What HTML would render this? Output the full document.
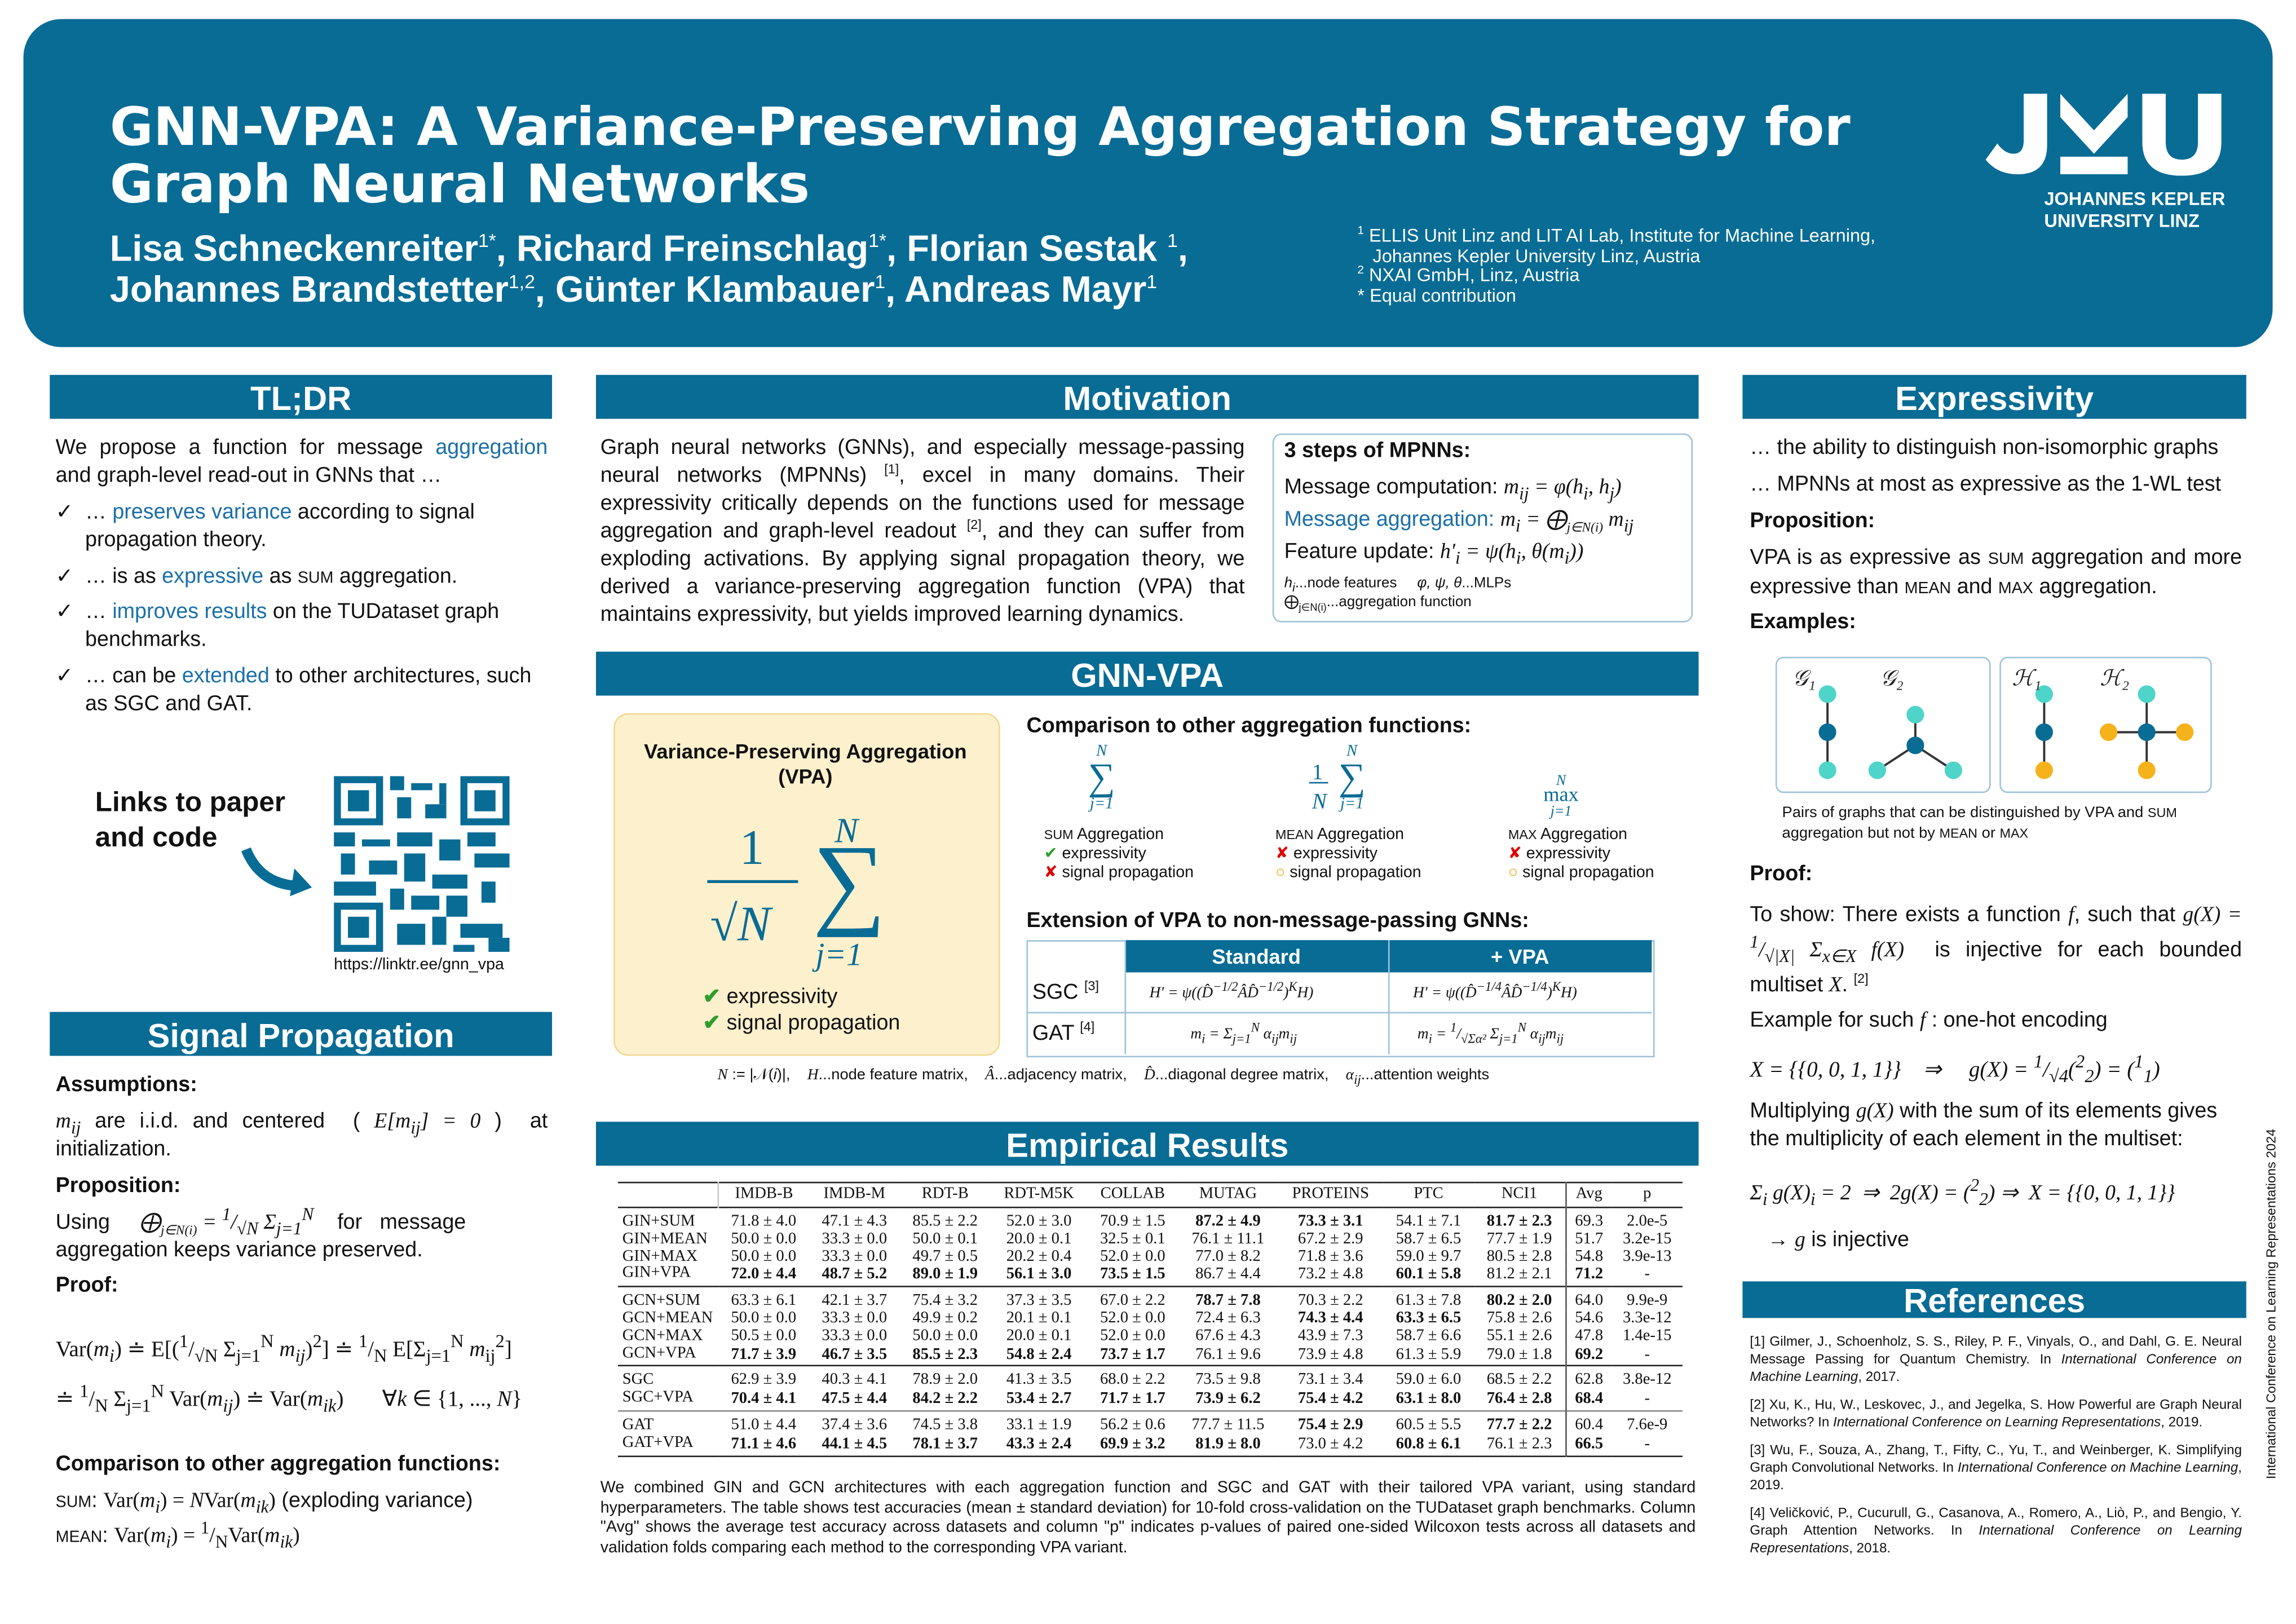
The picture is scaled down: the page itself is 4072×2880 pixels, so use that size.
<!DOCTYPE html>
<html><head><meta charset="utf-8"><style>
html,body{margin:0;padding:0;background:#fff;}
body{width:4072px;height:2880px;overflow:hidden;position:relative;}
#p{position:absolute;left:0;top:0;width:1568px;height:1109px;transform:scale(2.597);transform-origin:0 0;font-family:"Liberation Sans",sans-serif;color:#111;}
sup,sub{line-height:0;}
.a{position:absolute;}
.bar{position:absolute;background:#086c95;color:#fff;font-weight:bold;font-size:23px;text-align:center;height:30px;line-height:32px;}
.t{position:absolute;font-size:14.5px;line-height:19px;}
.b{color:#1a6fa8;}
.m{font-family:"Liberation Serif",serif;font-style:italic;}
.sm{font-size:10.5px;line-height:13px;}
table{border-collapse:collapse;font-family:"Liberation Serif",serif;font-size:11px;}
td{padding:0 3px;height:11.8px;line-height:11.8px;text-align:center;white-space:nowrap;}
td:first-child{text-align:left;}
.bd{font-weight:bold;}
.g td{padding-top:4px;}
.v{border-left:.5px solid #555;}
</style></head><body><div id="p">
<div class="a" style="left:16px;top:13px;width:1536px;height:224px;background:#086c95;border-radius:26px;"></div>
<div class="a" style="left:75px;top:67px;color:#fff;font-weight:bold;font-size:36.2px;line-height:39px;font-family:'DejaVu Sans',sans-serif;">GNN-VPA: A Variance-Preserving Aggregation Strategy for<br>Graph Neural Networks</div>
<div class="a" style="left:75px;top:156px;color:#fff;font-weight:bold;font-size:25px;line-height:28px;">Lisa Schneckenreiter<sup style="font-size:13px;font-weight:normal">1*</sup>, Richard Freinschlag<sup style="font-size:13px;font-weight:normal">1*</sup>, Florian Sestak <sup style="font-size:13px;font-weight:normal">1</sup>,<br>Johannes Brandstetter<sup style="font-size:13px;font-weight:normal">1,2</sup>, Günter Klambauer<sup style="font-size:13px;font-weight:normal">1</sup>, Andreas Mayr<sup style="font-size:13px;font-weight:normal">1</sup></div>
<div class="a" style="left:927px;top:155px;color:#fff;font-size:12.5px;line-height:13.5px;"><sup style="font-size:8px">1</sup> ELLIS Unit Linz and LIT AI Lab, Institute for Machine Learning,<br>&nbsp;&nbsp; Johannes Kepler University Linz, Austria<br><sup style="font-size:8px">2</sup> NXAI GmbH, Linz, Austria<br>* Equal contribution</div>
<svg class="a" style="left:1355px;top:62px" width="170" height="58" viewBox="0 0 170 58"><path d="M27 2h16v35q0 20-20 20q-14 0-22-10l8-11q5 7 11 7q7 0 7-9z" fill="#fff"/><path d="M52 2l23 25l23-25v16l-23 25l-23-25z M52 45h46v12h-46z" fill="#fff"/><path d="M108 2h16v33q0 12 11 12q11 0 11-12v-33h16v33q0 23-27 23q-27 0-27-23z" fill="#fff"/></svg>
<div class="a" style="left:1396px;top:129px;color:#fff;font-weight:bold;font-size:12.5px;line-height:15px;">JOHANNES KEPLER<br>UNIVERSITY LINZ</div>

<!-- left -->
<div class="bar" style="left:34px;top:256px;width:343px;">TL;DR</div>
<div class="t" style="left:38px;top:297px;width:336px;text-align:justify">We propose a function for message <span class="b">aggregation</span> and graph-level read-out in GNNs that …</div>
<div class="t" style="left:38px;top:341px;width:336px;">✓&nbsp; … <span class="b">preserves variance</span> according to signal<br>&nbsp;&nbsp;&nbsp;&nbsp; propagation theory.</div>
<div class="t" style="left:38px;top:385px;">✓&nbsp; … is as <span class="b">expressive</span> as <span style="font-size:11px">SUM</span> aggregation.</div>
<div class="t" style="left:38px;top:409px;width:336px;">✓&nbsp; … <span class="b">improves results</span> on the TUDataset graph<br>&nbsp;&nbsp;&nbsp;&nbsp; benchmarks.</div>
<div class="t" style="left:38px;top:453px;">✓&nbsp; … can be <span class="b">extended</span> to other architectures, such<br>&nbsp;&nbsp;&nbsp;&nbsp; as SGC and GAT.</div>
<div class="a" style="left:65px;top:537px;font-weight:bold;font-size:19px;line-height:24px;">Links to paper<br>and code</div>
<svg class="a" style="left:165px;top:575px" width="50" height="40"><path d="M3 5q10 25 38 25" stroke="#086c95" stroke-width="7" fill="none"/><path d="M36 18l12 13l-15 6z" fill="#086c95"/></svg>
<svg class="a" style="left:228px;top:530px" width="120" height="120" viewBox="0 0 25 25"><rect width="25" height="25" fill="#fff"/><g fill="#086c95"><path d="M0 0h7v7h-7zM1 1v5h5v-5zM2 2h3v3h-3z" fill-rule="evenodd"/><path d="M18 0h7v7h-7zM19 1v5h5v-5zM20 2h3v3h-3z" fill-rule="evenodd"/><path d="M0 18h7v7h-7zM1 19v5h5v-5zM2 20h3v3h-3z" fill-rule="evenodd"/><rect x="8" y="0" width="2" height="2"/><rect x="11" y="1" width="3" height="1"/><rect x="9" y="3" width="2" height="3"/><rect x="13" y="4" width="3" height="2"/><rect x="15" y="1" width="1" height="3"/><rect x="0" y="8" width="3" height="2"/><rect x="4" y="9" width="4" height="1"/><rect x="9" y="8" width="5" height="2"/><rect x="15" y="9" width="3" height="3"/><rect x="19" y="8" width="4" height="2"/><rect x="1" y="11" width="2" height="3"/><rect x="5" y="12" width="4" height="2"/><rect x="10" y="11" width="3" height="4"/><rect x="20" y="11" width="5" height="2"/><rect x="0" y="15" width="6" height="2"/><rect x="8" y="16" width="2" height="3"/><rect x="14" y="14" width="5" height="2"/><rect x="21" y="15" width="2" height="3"/><rect x="11" y="17" width="4" height="2"/><rect x="16" y="17" width="3" height="3"/><rect x="9" y="21" width="4" height="3"/><rect x="14" y="20" width="2" height="4"/><rect x="18" y="21" width="6" height="2"/><rect x="22" y="23" width="3" height="2"/><rect x="17" y="24" width="3" height="1"/></g></svg>
<div class="a" style="left:228px;top:653px;font-size:11px;">https://linktr.ee/gnn_vpa</div>

<div class="bar" style="left:34px;top:691px;width:343px;">Signal Propagation</div>
<div class="t" style="left:38px;top:732px;font-weight:bold">Assumptions:</div>
<div class="t" style="left:38px;top:757px;width:336px;text-align:justify"><span class="m">m<sub>ij</sub></span> are i.i.d. and centered &nbsp;( <span class="m">E[m<sub>ij</sub>] = 0</span> ) &nbsp;at initialization.</div>
<div class="t" style="left:38px;top:801px;font-weight:bold">Proposition:</div>
<div class="t" style="left:38px;top:826px;width:336px;">Using &nbsp;&nbsp;&nbsp;&nbsp;<span class="m">⨁<sub style="font-size:9px">j∈N(i)</sub> = <sup>1</sup>/<sub>√N</sub> Σ<sub>j=1</sub><sup>N</sup></span> &nbsp;&nbsp;&nbsp;for &nbsp; message<br>aggregation keeps variance preserved.</div>
<div class="t" style="left:38px;top:869px;font-weight:bold">Proof:</div>
<div class="a" style="left:38px;top:912px;font-size:15px;font-family:'Liberation Serif',serif">Var(<i>m<sub>i</sub></i>) ≐ E[(<sup>1</sup>/<sub>√N</sub> Σ<sub>j=1</sub><sup>N</sup> <i>m<sub>ij</sub></i>)<sup>2</sup>] ≐ <sup>1</sup>/<sub>N</sub> E[Σ<sub>j=1</sub><sup>N</sup> <i>m</i><sub>ij</sub><sup>2</sup>]</div>
<div class="a" style="left:38px;top:946px;font-size:15px;font-family:'Liberation Serif',serif">≐ <sup>1</sup>/<sub>N</sub> Σ<sub>j=1</sub><sup>N</sup> Var(<i>m<sub>ij</sub></i>) ≐ Var(<i>m<sub>ik</sub></i>) &nbsp;&nbsp;&nbsp;&nbsp;&nbsp; ∀<i>k</i> ∈ {1, ..., <i>N</i>}</div>
<div class="t" style="left:38px;top:991px;font-weight:bold">Comparison to other aggregation functions:</div>
<div class="t" style="left:38px;top:1016px;"><span style="font-size:11px">SUM</span>: <span style="font-family:'Liberation Serif',serif">Var(<i>m<sub>i</sub></i>) = <i>N</i>Var(<i>m<sub>ik</sub></i>)</span> (exploding variance)</div>
<div class="t" style="left:38px;top:1040px;"><span style="font-size:11px">MEAN</span>: <span style="font-family:'Liberation Serif',serif">Var(<i>m<sub>i</sub></i>) = <sup>1</sup>/<sub>N</sub>Var(<i>m<sub>ik</sub></i>)</span></div>

<!-- middle -->
<div class="bar" style="left:407px;top:256px;width:753px;">Motivation</div>
<div class="t" style="left:410px;top:297px;width:440px;text-align:justify">Graph neural networks (GNNs), and especially message-passing neural networks (MPNNs) <sup style="font-size:9px">[1]</sup>, excel in many domains. Their expressivity critically depends on the functions used for message aggregation and graph-level readout <sup style="font-size:9px">[2]</sup>, and they can suffer from exploding activations. By applying signal propagation theory, we derived a variance-preserving aggregation function (VPA) that maintains expressivity, but yields improved learning dynamics.</div>
<div class="a" style="left:869px;top:296px;width:285px;height:127px;border:1.5px solid #9cc3d8;border-radius:6px;"></div>
<div class="t" style="left:877px;top:299px;font-weight:bold">3 steps of MPNNs:</div>
<div class="t" style="left:877px;top:324px;">Message computation: <span class="m">m<sub>ij</sub> = φ(h<sub>i</sub>, h<sub>j</sub>)</span></div>
<div class="t" style="left:877px;top:346px;"><span class="b">Message aggregation:</span> <span class="m">m<sub>i</sub> = ⨁<sub style="font-size:9px">j∈N(i)</sub> m<sub>ij</sub></span></div>
<div class="t" style="left:877px;top:368px;">Feature update: <span class="m">h′<sub>i</sub> = ψ(h<sub>i</sub>, θ(m<sub>i</sub>))</span></div>
<div class="a sm" style="left:877px;top:392px;font-size:10px"><i>h<sub>i</sub></i>...node features &nbsp;&nbsp;&nbsp;&nbsp;<i>φ, ψ, θ</i>...MLPs<br>⨁<sub style="font-size:7px">j∈N(i)</sub>...aggregation function</div>

<div class="bar" style="left:407px;top:445px;width:753px;">GNN-VPA</div>
<div class="a" style="left:419px;top:487px;width:262px;height:232px;background:#fdf0cc;border:1px solid #f3d890;border-radius:10px;"></div>
<div class="a" style="left:419px;top:505px;width:262px;text-align:center;font-weight:bold;font-size:14px;line-height:17px;">Variance-Preserving Aggregation<br>(VPA)</div>
<div class="a" style="left:483px;top:548px;font-family:'Liberation Serif',serif;color:#086c95;font-size:34px;line-height:36px;"><div style="position:absolute;left:22px;top:14px">1</div><div style="position:absolute;left:0;top:53px;width:62px;border-top:2px solid #086c95"></div><div style="position:absolute;left:2px;top:66px;font-style:italic">√<i>N</i></div><div style="position:absolute;left:87px;top:2px;font-size:24px;font-style:italic">N</div><div style="position:absolute;left:72px;top:20px;font-size:70px;line-height:70px">∑</div><div style="position:absolute;left:74px;top:86px;font-size:22px;font-style:italic">j=1</div></div>
<div class="a" style="left:480px;top:672px;font-size:14.5px;line-height:18px;"><span style="color:#2e9e2e;font-weight:bold">✔</span> expressivity<br><span style="color:#2e9e2e;font-weight:bold">✔</span> signal propagation</div>
<div class="t" style="left:701px;top:487px;font-weight:bold">Comparison to other aggregation functions:</div>
<div class="a" style="left:743px;top:508px;font-family:'Liberation Serif',serif;color:#086c95;font-size:26px;text-align:center;line-height:24px;"><span style="font-size:11px;font-style:italic;display:block;line-height:11px">N</span>∑<span style="font-size:11px;font-style:italic;display:block;line-height:12px">j=1</span></div>
<div class="a" style="left:896px;top:508px;font-family:'Liberation Serif',serif;color:#086c95;font-size:26px;line-height:24px;"><span style="font-size:15px;position:absolute;left:0;top:8px">1</span><span style="position:absolute;left:-2px;top:26px;width:13px;border-top:1px solid #086c95"></span><span style="font-size:15px;position:absolute;left:0;top:28px;font-style:italic">N</span><span style="position:absolute;left:18px;top:0;text-align:center"><span style="font-size:11px;font-style:italic;display:block;line-height:11px">N</span>∑<span style="font-size:11px;font-style:italic;display:block;line-height:12px">j=1</span></span></div>
<div class="a" style="left:1054px;top:528px;font-family:'Liberation Serif',serif;color:#086c95;font-size:14px;line-height:10px;text-align:center"><span style="font-size:10px;font-style:italic">N</span><br>max<br><span style="font-size:10px;font-style:italic">j=1</span></div>
<div class="a sm" style="left:713px;top:564px;font-size:11px;"><span style="font-size:9px">SUM</span> Aggregation<br><span style="color:#2e9e2e">✔</span> expressivity<br><span style="color:#d00">✘</span> signal propagation</div>
<div class="a sm" style="left:871px;top:564px;font-size:11px;"><span style="font-size:9px">MEAN</span> Aggregation<br><span style="color:#d00">✘</span> expressivity<br><span style="color:#f0a000">○</span> signal propagation</div>
<div class="a sm" style="left:1030px;top:564px;font-size:11px;"><span style="font-size:9px">MAX</span> Aggregation<br><span style="color:#d00">✘</span> expressivity<br><span style="color:#f0a000">○</span> signal propagation</div>
<div class="t" style="left:701px;top:620px;font-weight:bold">Extension of VPA to non-message-passing GNNs:</div>
<div class="a" style="left:701px;top:642px;width:427px;height:78px;border:1px solid #9cc3d8;"></div>
<div class="a" style="left:768px;top:642px;width:360px;height:22px;background:#086c95;color:#fff;font-weight:bold;font-size:14px;line-height:22px;"><span style="position:absolute;left:0;width:180px;text-align:center">Standard</span><span style="position:absolute;left:180px;width:180px;text-align:center">+ VPA</span></div>
<div class="a" style="left:768px;top:642px;width:1px;height:78px;background:#9cc3d8"></div>
<div class="a" style="left:948px;top:642px;width:1px;height:78px;background:#9cc3d8"></div>
<div class="a" style="left:701px;top:691px;width:427px;height:1px;background:#9cc3d8"></div>
<div class="t" style="left:705px;top:669px;">SGC <sup style="font-size:9px">[3]</sup></div>
<div class="t" style="left:705px;top:697px;">GAT <sup style="font-size:9px">[4]</sup></div>
<div class="a m sm" style="left:785px;top:672px;">H′ = ψ((D̂<sup>−1/2</sup>ÂD̂<sup>−1/2</sup>)<sup>K</sup>H)</div>
<div class="a m sm" style="left:965px;top:672px;">H′ = ψ((D̂<sup>−1/4</sup>ÂD̂<sup>−1/4</sup>)<sup>K</sup>H)</div>
<div class="a m sm" style="left:813px;top:700px;">m<sub>i</sub> = Σ<sub>j=1</sub><sup>N</sup> α<sub>ij</sub>m<sub>ij</sub></div>
<div class="a m sm" style="left:968px;top:700px;">m<sub>i</sub> = <sup>1</sup>/<sub>√Σα²</sub> Σ<sub>j=1</sub><sup>N</sup> α<sub>ij</sub>m<sub>ij</sub></div>
<div class="a" style="left:490px;top:728px;font-size:10.5px;"><i class="m">N</i> := |𝒩(<i>i</i>)|, &nbsp;&nbsp;&nbsp;<i class="m">H</i>...node feature matrix, &nbsp;&nbsp;&nbsp;<i class="m">Â</i>...adjacency matrix, &nbsp;&nbsp;&nbsp;<i class="m">D̂</i>...diagonal degree matrix, &nbsp;&nbsp;&nbsp;<i class="m">α<sub>ij</sub></i>...attention weights</div>

<div class="bar" style="left:407px;top:766px;width:753px;">Empirical Results</div>
<div class="a" style="left:422px;top:807px;width:727px;">
<table style="width:727px;border-top:1.5px solid #222;border-bottom:1.5px solid #222">
<tr style="border-bottom:1px solid #222"><td style="border-right:.5px solid #ccc;width:62px;height:16px"></td><td>IMDB-B</td><td>IMDB-M</td><td>RDT-B</td><td>RDT-M5K</td><td>COLLAB</td><td>MUTAG</td><td>PROTEINS</td><td>PTC</td><td>NCI1</td><td class="v">Avg</td><td>p</td></tr>
<tr class="g"><td>GIN+SUM</td><td>71.8 ± 4.0</td><td>47.1 ± 4.3</td><td>85.5 ± 2.2</td><td>52.0 ± 3.0</td><td>70.9 ± 1.5</td><td class="bd">87.2 ± 4.9</td><td class="bd">73.3 ± 3.1</td><td>54.1 ± 7.1</td><td class="bd">81.7 ± 2.3</td><td class="v">69.3</td><td>2.0e-5</td></tr>
<tr><td>GIN+MEAN</td><td>50.0 ± 0.0</td><td>33.3 ± 0.0</td><td>50.0 ± 0.1</td><td>20.0 ± 0.1</td><td>32.5 ± 0.1</td><td>76.1 ± 11.1</td><td>67.2 ± 2.9</td><td>58.7 ± 6.5</td><td>77.7 ± 1.9</td><td class="v">51.7</td><td>3.2e-15</td></tr>
<tr><td>GIN+MAX</td><td>50.0 ± 0.0</td><td>33.3 ± 0.0</td><td>49.7 ± 0.5</td><td>20.2 ± 0.4</td><td>52.0 ± 0.0</td><td>77.0 ± 8.2</td><td>71.8 ± 3.6</td><td>59.0 ± 9.7</td><td>80.5 ± 2.8</td><td class="v">54.8</td><td>3.9e-13</td></tr>
<tr style="border-bottom:1.5px solid #222"><td style="padding-bottom:2px">GIN+VPA</td><td class="bd">72.0 ± 4.4</td><td class="bd">48.7 ± 5.2</td><td class="bd">89.0 ± 1.9</td><td class="bd">56.1 ± 3.0</td><td class="bd">73.5 ± 1.5</td><td>86.7 ± 4.4</td><td>73.2 ± 4.8</td><td class="bd">60.1 ± 5.8</td><td>81.2 ± 2.1</td><td class="bd v">71.2</td><td>-</td></tr>
<tr class="g"><td>GCN+SUM</td><td>63.3 ± 6.1</td><td>42.1 ± 3.7</td><td>75.4 ± 3.2</td><td>37.3 ± 3.5</td><td>67.0 ± 2.2</td><td class="bd">78.7 ± 7.8</td><td>70.3 ± 2.2</td><td>61.3 ± 7.8</td><td class="bd">80.2 ± 2.0</td><td class="v">64.0</td><td>9.9e-9</td></tr>
<tr><td>GCN+MEAN</td><td>50.0 ± 0.0</td><td>33.3 ± 0.0</td><td>49.9 ± 0.2</td><td>20.1 ± 0.1</td><td>52.0 ± 0.0</td><td>72.4 ± 6.3</td><td class="bd">74.3 ± 4.4</td><td class="bd">63.3 ± 6.5</td><td>75.8 ± 2.6</td><td class="v">54.6</td><td>3.3e-12</td></tr>
<tr><td>GCN+MAX</td><td>50.5 ± 0.0</td><td>33.3 ± 0.0</td><td>50.0 ± 0.0</td><td>20.0 ± 0.1</td><td>52.0 ± 0.0</td><td>67.6 ± 4.3</td><td>43.9 ± 7.3</td><td>58.7 ± 6.6</td><td>55.1 ± 2.6</td><td class="v">47.8</td><td>1.4e-15</td></tr>
<tr style="border-bottom:1.5px solid #222"><td style="padding-bottom:2px">GCN+VPA</td><td class="bd">71.7 ± 3.9</td><td class="bd">46.7 ± 3.5</td><td class="bd">85.5 ± 2.3</td><td class="bd">54.8 ± 2.4</td><td class="bd">73.7 ± 1.7</td><td>76.1 ± 9.6</td><td>73.9 ± 4.8</td><td>61.3 ± 5.9</td><td>79.0 ± 1.8</td><td class="bd v">69.2</td><td>-</td></tr>
<tr class="g"><td>SGC</td><td>62.9 ± 3.9</td><td>40.3 ± 4.1</td><td>78.9 ± 2.0</td><td>41.3 ± 3.5</td><td>68.0 ± 2.2</td><td>73.5 ± 9.8</td><td>73.1 ± 3.4</td><td>59.0 ± 6.0</td><td>68.5 ± 2.2</td><td class="v">62.8</td><td>3.8e-12</td></tr>
<tr style="border-bottom:1.5px solid #888"><td style="padding-bottom:2px">SGC+VPA</td><td class="bd">70.4 ± 4.1</td><td class="bd">47.5 ± 4.4</td><td class="bd">84.2 ± 2.2</td><td class="bd">53.4 ± 2.7</td><td class="bd">71.7 ± 1.7</td><td class="bd">73.9 ± 6.2</td><td class="bd">75.4 ± 4.2</td><td class="bd">63.1 ± 8.0</td><td class="bd">76.4 ± 2.8</td><td class="bd v">68.4</td><td>-</td></tr>
<tr class="g"><td>GAT</td><td>51.0 ± 4.4</td><td>37.4 ± 3.6</td><td>74.5 ± 3.8</td><td>33.1 ± 1.9</td><td>56.2 ± 0.6</td><td>77.7 ± 11.5</td><td class="bd">75.4 ± 2.9</td><td>60.5 ± 5.5</td><td class="bd">77.7 ± 2.2</td><td class="v">60.4</td><td>7.6e-9</td></tr>
<tr><td style="padding-bottom:2px">GAT+VPA</td><td class="bd">71.1 ± 4.6</td><td class="bd">44.1 ± 4.5</td><td class="bd">78.1 ± 3.7</td><td class="bd">43.3 ± 2.4</td><td class="bd">69.9 ± 3.2</td><td class="bd">81.9 ± 8.0</td><td>73.0 ± 4.2</td><td class="bd">60.8 ± 6.1</td><td>76.1 ± 2.3</td><td class="bd v">66.5</td><td>-</td></tr>
</table></div>
<div class="a" style="left:410px;top:1010px;width:748px;font-size:11px;line-height:13.5px;text-align:justify">We combined GIN and GCN architectures with each aggregation function and SGC and GAT with their tailored VPA variant, using standard hyperparameters. The table shows test accuracies (mean ± standard deviation) for 10-fold cross-validation on the TUDataset graph benchmarks. Column "Avg" shows the average test accuracy across datasets and column "p" indicates p-values of paired one-sided Wilcoxon tests across all datasets and validation folds comparing each method to the corresponding VPA variant.</div>

<!-- right -->
<div class="bar" style="left:1190px;top:256px;width:344px;">Expressivity</div>
<div class="t" style="left:1195px;top:297px;">… the ability to distinguish non-isomorphic graphs</div>
<div class="t" style="left:1195px;top:322px;">… MPNNs at most as expressive as the 1-WL test</div>
<div class="t" style="left:1195px;top:347px;font-weight:bold">Proposition:</div>
<div class="t" style="left:1195px;top:372px;width:336px;text-align:justify">VPA is as expressive as <span style="font-size:11px">SUM</span> aggregation and more expressive than <span style="font-size:11px">MEAN</span> and <span style="font-size:11px">MAX</span> aggregation.</div>
<div class="t" style="left:1195px;top:416px;font-weight:bold">Examples:</div>
<svg class="a" style="left:1212px;top:448px" width="300" height="95"><rect x="1" y="1" width="146" height="92" rx="5" fill="none" stroke="#9cc3d8"/><rect x="154" y="1" width="144" height="92" rx="5" fill="none" stroke="#9cc3d8"/>
<g stroke="#333" stroke-width="1.5"><line x1="36" y1="25" x2="36" y2="78"/><line x1="96" y1="40" x2="96" y2="61"/><line x1="96" y1="61" x2="70" y2="78"/><line x1="96" y1="61" x2="122" y2="78"/><line x1="184" y1="25" x2="184" y2="78"/><line x1="222" y1="52" x2="280" y2="52"/><line x1="254" y1="25" x2="254" y2="78"/></g>
<g fill="#4ed4c8"><circle cx="36" cy="26" r="6"/><circle cx="36" cy="78" r="6"/><circle cx="96" cy="40" r="6"/><circle cx="70" cy="78" r="6"/><circle cx="122" cy="78" r="6"/><circle cx="184" cy="26" r="6"/><circle cx="254" cy="26" r="6"/></g>
<g fill="#086c95"><circle cx="36" cy="52" r="6"/><circle cx="96" cy="61" r="6"/><circle cx="184" cy="52" r="6"/><circle cx="254" cy="52" r="6"/></g>
<g fill="#f5b21b"><circle cx="184" cy="78" r="6"/><circle cx="228" cy="52" r="6"/><circle cx="280" cy="52" r="6"/><circle cx="254" cy="78" r="6"/></g>
<g font-family="Liberation Serif" font-style="italic" font-size="15" fill="#222"><text x="12" y="20">𝒢₁</text><text x="72" y="20">𝒢₂</text><text x="162" y="20">ℋ₁</text><text x="222" y="20">ℋ₂</text></g></svg>
<div class="a" style="left:1217px;top:548px;font-size:10.5px;line-height:14px;">Pairs of graphs that can be distinguished by VPA and <span style="font-size:9px">SUM</span><br>aggregation but not by <span style="font-size:9px">MEAN</span> or <span style="font-size:9px">MAX</span></div>
<div class="t" style="left:1195px;top:588px;font-weight:bold">Proof:</div>
<div class="t" style="left:1195px;top:613px;width:336px;text-align:justify;line-height:24px">To show: There exists a function <i class="m">f</i>, such that <span class="m">g(X) = <sup>1</sup>/<sub>√|X|</sub> Σ<sub>x∈X</sub> f(X)</span> &nbsp;is injective for each bounded multiset <i class="m">X</i>. <sup style="font-size:9px">[2]</sup></div>
<div class="t" style="left:1195px;top:688px;">Example for such <i class="m">f</i> : one-hot encoding</div>
<div class="t m" style="left:1195px;top:722px;font-size:15px;">X = {{0, 0, 1, 1}} &nbsp;&nbsp;&nbsp;⇒ &nbsp;&nbsp;&nbsp; g(X) = <sup>1</sup>/<sub>√4</sub>(<sup>2</sup><sub>2</sub>) = (<sup>1</sup><sub>1</sub>)</div>
<div class="t" style="left:1195px;top:750px;width:336px;">Multiplying <i class="m">g(X)</i> with the sum of its elements gives the multiplicity of each element in the multiset:</div>
<div class="t m" style="left:1195px;top:806px;font-size:14.5px;">Σ<sub>i</sub> g(X)<sub>i</sub> = 2 &nbsp;⇒ &nbsp;2g(X) = (<sup>2</sup><sub>2</sub>) ⇒ &nbsp;X = {{0, 0, 1, 1}}</div>
<div class="t" style="left:1195px;top:838px;">&nbsp;&nbsp;&nbsp;→ <i class="m">g</i> is injective</div>
<div class="bar" style="left:1190px;top:875px;width:344px;height:25px;line-height:27px;">References</div>
<div class="a" style="left:1195px;top:910px;width:336px;font-size:9.3px;line-height:12px;text-align:justify">
<p style="margin:0 0 7px">[1] Gilmer, J., Schoenholz, S. S., Riley, P. F., Vinyals, O., and Dahl, G. E. Neural Message Passing for Quantum Chemistry. In <i>International Conference on Machine Learning</i>, 2017.</p>
<p style="margin:0 0 7px">[2] Xu, K., Hu, W., Leskovec, J., and Jegelka, S. How Powerful are Graph Neural Networks? In <i>International Conference on Learning Representations</i>, 2019.</p>
<p style="margin:0 0 7px">[3] Wu, F., Souza, A., Zhang, T., Fifty, C., Yu, T., and Weinberger, K. Simplifying Graph Convolutional Networks. In <i>International Conference on Machine Learning</i>, 2019.</p>
<p style="margin:0">[4] Veličković, P., Cucurull, G., Casanova, A., Romero, A., Liò, P., and Bengio, Y. Graph Attention Networks. In <i>International Conference on Learning Representations</i>, 2018.</p></div>
<div class="a" style="left:1546px;top:1010px;transform:rotate(-90deg);transform-origin:0 0;font-size:9px;white-space:nowrap;">International Conference on Learning Representations 2024</div>
</div></body></html>
